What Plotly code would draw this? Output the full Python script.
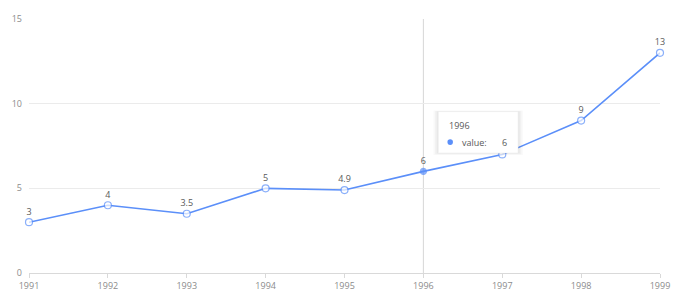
import plotly.graph_objects as go

years = [1991, 1992, 1993, 1994, 1995, 1996, 1997, 1998, 1999]
values = [3, 4, 3.5, 5, 4.9, 6, 7, 9, 13]
y_ticks = [0, 5, 10, 15]
active_year = 1996

BLUE = "#5B8FF9"
FONT = "Open Sans, Noto Sans, sans-serif"

active_idx = years.index(active_year)
marker_fill = ["white"] * len(years)
marker_fill[active_idx] = BLUE
marker_size = [7] * len(years)
marker_size[active_idx] = 6
# the label of the point right of the active one is hidden under the tooltip
labels = [str(v) for v in values]
labels[active_idx + 1] = ""

fig = go.Figure()
fig.add_trace(go.Scatter(
    x=years, y=values, mode="lines+markers+text",
    text=labels, textposition="top center",
    textfont=dict(size=9, color="#595959", family=FONT),
    line=dict(color=BLUE, width=1.6),
    marker=dict(size=marker_size, color=marker_fill, line=dict(color=BLUE, width=1.2)),
    hoverinfo="skip", cliponaxis=False,
))

# crosshair
fig.add_shape(type="line", x0=active_year, x1=active_year, xref="x", yref="paper",
              y0=0, y1=1, line=dict(color="#d6d6d6", width=1), layer="below")

# tooltip box (offset from active point)
ax = active_year
av = values[active_idx]
bx0, bx1 = ax + 0.19, ax + 1.20
by0, by1 = av + 1.09, av + 3.53
for i, op in enumerate([0.025, 0.03, 0.035]):
    d = 0.03 * (3 - i)
    fig.add_shape(type="rect", x0=bx0 - d * 0.7, x1=bx1 + d * 0.7, y0=by0 - d * 1.3, y1=by1 + d * 0.7,
                  xref="x", yref="y", fillcolor=f"rgba(0,0,0,{op})", line=dict(width=0))
fig.add_shape(type="rect", x0=bx0, x1=bx1, y0=by0, y1=by1, xref="x", yref="y",
              fillcolor="white", line=dict(color="rgba(238,238,238,1)", width=0.5))
fig.add_annotation(x=bx0 + 0.11, y=by1 - 0.8, xref="x", yref="y", text=str(active_year),
                   showarrow=False, xanchor="left", yanchor="middle",
                   font=dict(size=9, color="#595959", family=FONT))
dx, dy = bx0 + 0.15, by0 + 0.64
fig.add_shape(type="circle", x0=dx - 0.035, x1=dx + 0.035, y0=dy - 0.17, y1=dy + 0.17,
              xref="x", yref="y", fillcolor=BLUE, line=dict(width=0))
fig.add_annotation(x=bx0 + 0.27, y=dy, xref="x", yref="y", text="value:",
                   showarrow=False, xanchor="left", yanchor="middle",
                   font=dict(size=9, color="#595959", family=FONT))
fig.add_annotation(x=bx1 - 0.11, y=dy, xref="x", yref="y", text=str(av),
                   showarrow=False, xanchor="right", yanchor="middle",
                   font=dict(size=9, color="#595959", family=FONT))

fig.update_layout(
    width=689, height=304, showlegend=False,
    margin=dict(l=26, r=29, t=16, b=30),
    paper_bgcolor="white", plot_bgcolor="white",
    font=dict(family=FONT, size=9, color="#8c8c8c"),
    xaxis=dict(range=[years[0], years[-1]], tickmode="array", tickvals=years,
               ticktext=[str(y) for y in years], showgrid=False, zeroline=False,
               showline=True, linecolor="#d9d9d9", linewidth=1,
               ticks="outside", ticklen=4, tickcolor="#d9d9d9",
               tickfont=dict(size=9, color="#8c8c8c")),
    yaxis=dict(range=[0, 15], tickmode="array", tickvals=y_ticks, showgrid=True,
               gridcolor="#ebebeb", gridwidth=1, zeroline=False, showline=False,
               ticks="", ticklabelstandoff=6, tickfont=dict(size=9, color="#8c8c8c")),
)

fig.write_html("out.html")
